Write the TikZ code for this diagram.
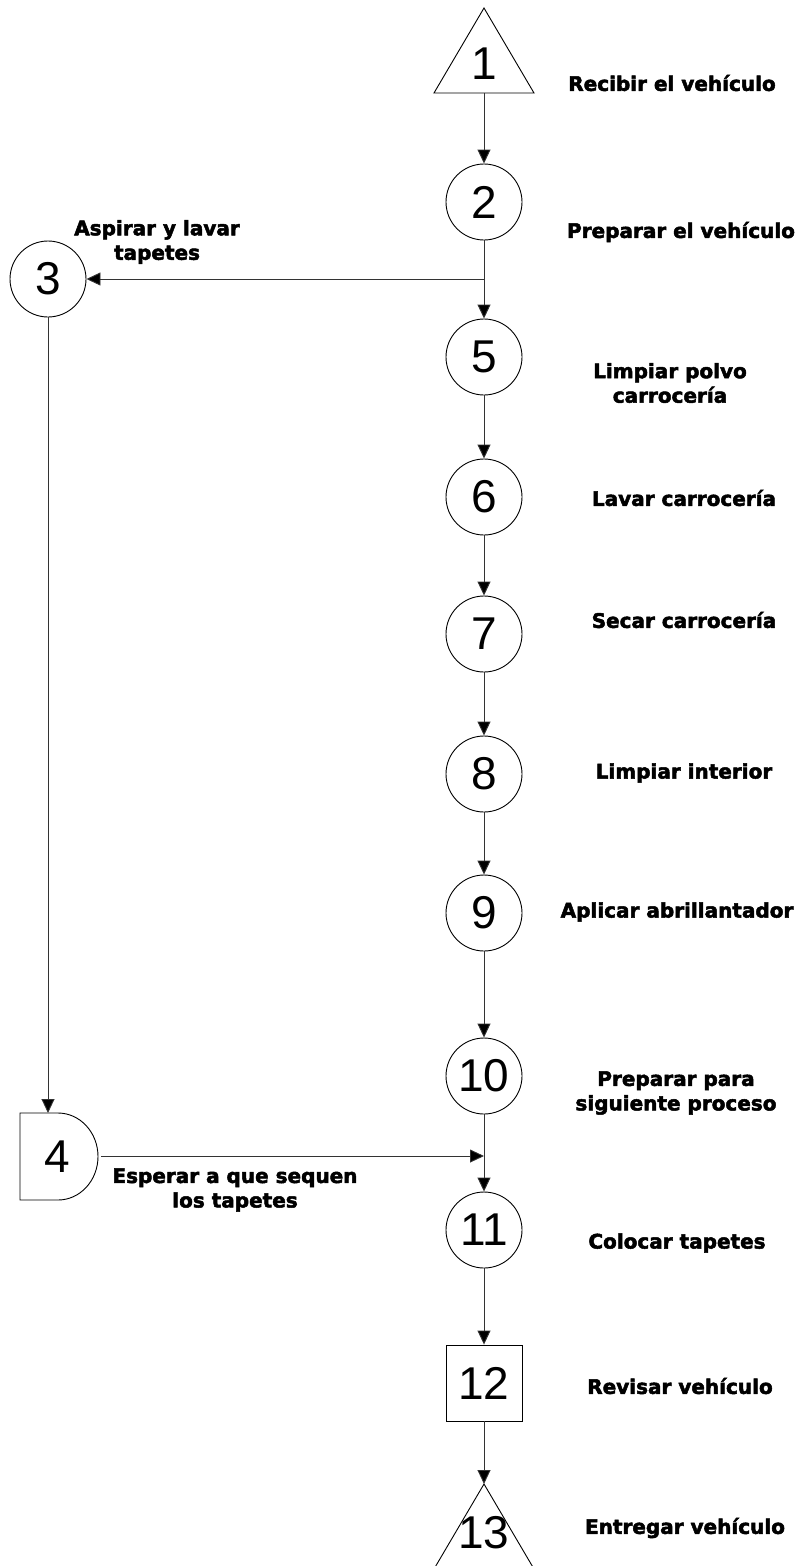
\documentclass[tikz,border=0pt]{standalone}
\usepackage{fontspec}
\setmainfont{Liberation Sans}
\newfontfamily\labfont{DejaVu Sans}[BoldFeatures={FakeBold=2.5}]
\usetikzlibrary{arrows.meta,calc}
\definecolor{linec}{gray}{0.2}
\begin{document}
\begin{tikzpicture}[x=1pt,y=1pt,
  every path/.style={line width=0.9pt},
  num/.style={font=\fontsize{46}{46}\selectfont, inner sep=0pt},
  opcirc/.style={circle, draw, minimum size=76pt, inner sep=0pt, font=\fontsize{46}{46}\selectfont},
  opsq/.style={rectangle, draw, minimum size=76pt, inner sep=0pt, font=\fontsize{46}{46}\selectfont},
  lab/.style={font=\labfont\bfseries\fontsize{20}{24.5}\selectfont, align=center, inner sep=0pt},
  arr/.style={draw=linec, -{Triangle[length=14pt,width=13pt,fill=black]}},
  ln/.style={draw=linec}]
\useasboundingbox (0,0) rectangle (807,-1566);
% triangle 1
\draw (484,-8) -- (534,-93) -- (434,-93) -- cycle;
\node[num] (n1) at (484,-64) {1};
\coordinate (n1b) at (484,-93);
% circles
\node[opcirc] (n2) at (484,-202) {2};
\node[opcirc] (n3) at (48,-279) {3};
\node[opcirc] (n5) at (484,-357) {5};
\node[opcirc] (n6) at (484,-497) {6};
\node[opcirc] (n7) at (484,-634) {7};
\node[opcirc] (n8) at (484,-774) {8};
\node[opcirc] (n9) at (484,-913) {9};
\node[opcirc] (n10) at (484,-1076) {10};
\node[opcirc] (n11) at (484,-1230) {11};
\node[opsq] (n12) at (484,-1383) {12};
% D shape 4
\draw (20,-1113) -- (58,-1113) arc[start angle=90,end angle=-90,x radius=40,y radius=43.5] -- (20,-1200) -- cycle;
\node[num] (n4) at (57,-1157) {4};
\coordinate (n4t) at (48,-1113);
\coordinate (n4r) at (101,-1156);
% triangle 13
\draw (484,-1484) -- (534,-1569) -- (434,-1569) -- cycle;
\node[num] (n13) at (484,-1533) {13};
\coordinate (n13t) at (484,-1484);
% junctions
\coordinate (j1) at (484,-279);
\coordinate (j2) at (484,-1156);
% connectors
\draw[arr] (n1b) -- (n2.north);
\draw[ln] (n2.south) -- (j1);
\draw[arr] (j1) -- (n5.north);
\draw[arr] (j1) -- (n3.east);
\draw[arr] (n3.south) -- (n4t);
\draw[arr] (n4r) -- (j2);
\draw[arr] (n5.south) -- (n6.north);
\draw[arr] (n6.south) -- (n7.north);
\draw[arr] (n7.south) -- (n8.north);
\draw[arr] (n8.south) -- (n9.north);
\draw[arr] (n9.south) -- (n10.north);
\draw[ln] (n10.south) -- (j2);
\draw[arr] (j2) -- (n11.north);
\draw[arr] (n11.south) -- (n12.north);
\draw[arr] (n12.south) -- (n13t);
% labels
\node[lab] (l1) at (672,-83) {Recibir el vehículo};
\node[lab] (l2) at (681,-232) {Preparar el vehículo};
\node[lab] (l3) at (157,-242) {Aspirar y lavar\\tapetes};
\node[lab] (l5) at (670,-383) {Limpiar polvo\\carrocería};
\node[lab] (l6) at (684,-498) {Lavar carrocería};
\node[lab] (l7) at (684,-620) {Secar carrocería};
\node[lab] (l8) at (684,-773) {Limpiar interior};
\node[lab] (l9) at (677,-912) {Aplicar abrillantador};
\node[lab] (l10) at (676,-1093) {Preparar para\\siguiente proceso};
\node[lab] (l4) at (235,-1190) {Esperar a que sequen\\los tapetes};
\node[lab] (l11) at (677,-1243) {Colocar tapetes};
\node[lab] (l12) at (680,-1386) {Revisar vehículo};
\node[lab] (l13) at (685,-1528) {Entregar vehículo};
\end{tikzpicture}
\end{document}
